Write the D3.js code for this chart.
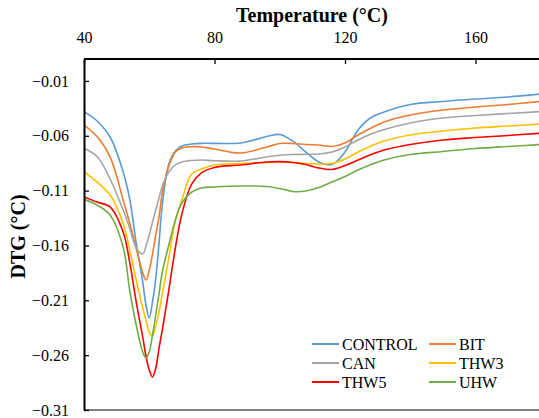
<!DOCTYPE html>
<html>
<head>
<meta charset="utf-8">
<script src="https://cdn.jsdelivr.net/npm/d3@7"></script>
<style>
  html, body { margin: 0; padding: 0; background: #fff; }
  svg { display: block; }
  text { font-family: "Liberation Serif", "Times New Roman", serif; fill: #000; }
</style>
</head>
<body>
<svg id="chart" width="539" height="418"></svg>
<script>
const temperatures = [40, 44, 48, 52, 54, 56, 58, 59, 60, 61, 62, 63, 64, 66, 68, 70, 73, 76, 80, 88, 96, 100, 104, 108, 112, 116, 120, 124, 128, 132, 140, 150, 160, 170, 180];

const control = [-0.0380, -0.0465, -0.0611, -0.0930, -0.1176, -0.1578, -0.1933, -0.2143, -0.2261, -0.2115, -0.1897, -0.1578, -0.1231, -0.0857, -0.0739, -0.0693, -0.0675, -0.0669, -0.0669, -0.0666, -0.0607, -0.0588, -0.0648, -0.0748, -0.0839, -0.0862, -0.0748, -0.0547, -0.0433, -0.0383, -0.0315, -0.0287, -0.0265, -0.0246, -0.0219];
const bit     = [-0.0502, -0.0607, -0.0793, -0.1185, -0.1395, -0.1623, -0.1851, -0.1915, -0.1824, -0.1678, -0.1505, -0.1340, -0.1122, -0.0876, -0.0748, -0.0711, -0.0700, -0.0702, -0.0721, -0.0757, -0.0702, -0.0670, -0.0670, -0.0680, -0.0684, -0.0698, -0.0666, -0.0593, -0.0529, -0.0474, -0.0411, -0.0365, -0.0338, -0.0315, -0.0287];
const can     = [-0.0714, -0.0789, -0.0994, -0.1277, -0.1441, -0.1623, -0.1678, -0.1605, -0.1505, -0.1386, -0.1277, -0.1167, -0.1058, -0.0930, -0.0866, -0.0839, -0.0825, -0.0821, -0.0827, -0.0830, -0.0793, -0.0778, -0.0771, -0.0769, -0.0766, -0.0748, -0.0702, -0.0638, -0.0584, -0.0543, -0.0483, -0.0438, -0.0415, -0.0397, -0.0379];
const thw3    = [-0.0927, -0.1022, -0.1140, -0.1400, -0.1641, -0.1915, -0.2170, -0.2280, -0.2389, -0.2425, -0.2334, -0.2207, -0.2042, -0.1714, -0.1377, -0.1185, -0.0948, -0.0903, -0.0866, -0.0853, -0.0844, -0.0837, -0.0842, -0.0853, -0.0857, -0.0853, -0.0812, -0.0748, -0.0693, -0.0648, -0.0593, -0.0556, -0.0529, -0.0511, -0.0493];
const thw5    = [-0.1155, -0.1204, -0.1249, -0.1477, -0.1751, -0.2115, -0.2435, -0.2608, -0.2735, -0.2799, -0.2717, -0.2535, -0.2371, -0.2006, -0.1623, -0.1313, -0.1040, -0.0939, -0.0889, -0.0866, -0.0839, -0.0836, -0.0844, -0.0862, -0.0894, -0.0907, -0.0871, -0.0821, -0.0771, -0.0730, -0.0680, -0.0638, -0.0616, -0.0597, -0.0577];
const uhw     = [-0.1179, -0.1231, -0.1322, -0.1614, -0.2006, -0.2325, -0.2571, -0.2626, -0.2571, -0.2416, -0.2234, -0.2042, -0.1842, -0.1596, -0.1368, -0.1213, -0.1113, -0.1076, -0.1067, -0.1058, -0.1062, -0.1081, -0.1108, -0.1103, -0.1072, -0.1021, -0.0971, -0.0912, -0.0862, -0.0821, -0.0771, -0.0743, -0.0716, -0.0698, -0.0680];

const seriesNames = ["CONTROL", "BIT", "CAN", "THW3", "THW5", "UHW"];
const seriesValues = [control, bit, can, thw3, thw5, uhw];
const seriesColors = ["#5B9BD5", "#ED7D31", "#A5A5A5", "#FFC000", "#FF0000", "#70AD47"];

const xTicks = [40, 80, 120, 160];
const yTicks = [-0.01, -0.06, -0.11, -0.16, -0.21, -0.26, -0.31];

const svg = d3.select("#chart");
const plotLeft = 84, plotTop = 59, plotBottom = 410, plotRight = 540.75;

const x = d3.scaleLinear().domain([40, 180]).range([plotLeft, plotRight]);
const y = d3.scaleLinear().domain([-0.31, 0.01]).range([plotBottom, plotTop]);

svg.append("defs").append("clipPath").attr("id", "plotclip")
  .append("rect").attr("x", plotLeft).attr("y", plotTop - 2).attr("width", plotRight - plotLeft).attr("height", plotBottom - plotTop + 4);

// bottom border (gray)
svg.append("line").attr("x1", plotLeft).attr("x2", 539).attr("y1", plotBottom).attr("y2", plotBottom)
  .attr("stroke", "#7f7f7f").attr("stroke-width", 2);

// lines
const line = d3.line()
  .x((d, i) => x(temperatures[i]))
  .y(d => y(d))
  .curve(d3.curveCatmullRom.alpha(0.5));

const g = svg.append("g").attr("clip-path", "url(#plotclip)");
seriesValues.forEach((vals, k) => {
  g.append("path").datum(vals)
    .attr("d", line)
    .attr("fill", "none")
    .attr("stroke", seriesColors[k])
    .attr("stroke-width", 1.6);
});

// top axis
const xAxis = d3.axisTop(x).tickValues(xTicks).tickFormat(d3.format("d")).tickSizeInner(-5).tickSizeOuter(0).tickPadding(16);
const gx = svg.append("g").attr("transform", `translate(0,${plotTop})`).call(xAxis);
gx.select(".domain").attr("stroke", "#000").attr("stroke-width", 2).attr("d", `M${plotLeft},0H539`);
gx.selectAll(".tick line").attr("stroke", "#000").attr("stroke-width", 1.3);
gx.selectAll(".tick text").attr("font-size", 16).attr("font-family", "Liberation Serif, serif").attr("fill", "#000");

// left axis
const yAxis = d3.axisLeft(y).tickValues(yTicks).tickFormat(d3.format(".2f")).tickSizeInner(-5).tickSizeOuter(0).tickPadding(15);
const gy = svg.append("g").attr("transform", `translate(${plotLeft},0)`).call(yAxis);
gy.select(".domain").attr("stroke", "#000").attr("stroke-width", 2);
gy.selectAll(".tick line").attr("stroke", "#000").attr("stroke-width", 1.3);
gy.selectAll(".tick text").attr("font-size", 16).attr("font-family", "Liberation Serif, serif").attr("fill", "#000");

// titles
svg.append("text").attr("x", 312).attr("y", 22).attr("text-anchor", "middle")
  .attr("font-size", 20).attr("font-weight", "bold").text("Temperature (°C)");
svg.append("text").attr("transform", `translate(25,${(plotTop + plotBottom) / 2 + 2}) rotate(-90)`)
  .attr("text-anchor", "middle").attr("font-size", 20).attr("font-weight", "bold").text("DTG (°C)");

// legend
const legend = svg.append("g");
seriesNames.forEach((name, k) => {
  const col = k % 2, row = Math.floor(k / 2);
  const lx = col === 0 ? 312 : 429;
  const ly = 344 + row * 19;
  legend.append("line").attr("x1", lx).attr("x2", lx + 27).attr("y1", ly).attr("y2", ly)
    .attr("stroke", seriesColors[k]).attr("stroke-width", 2);
  legend.append("text").attr("x", lx + 30).attr("y", ly + 5.5).attr("font-size", 16).text(name);
});
</script>
</body>
</html>
